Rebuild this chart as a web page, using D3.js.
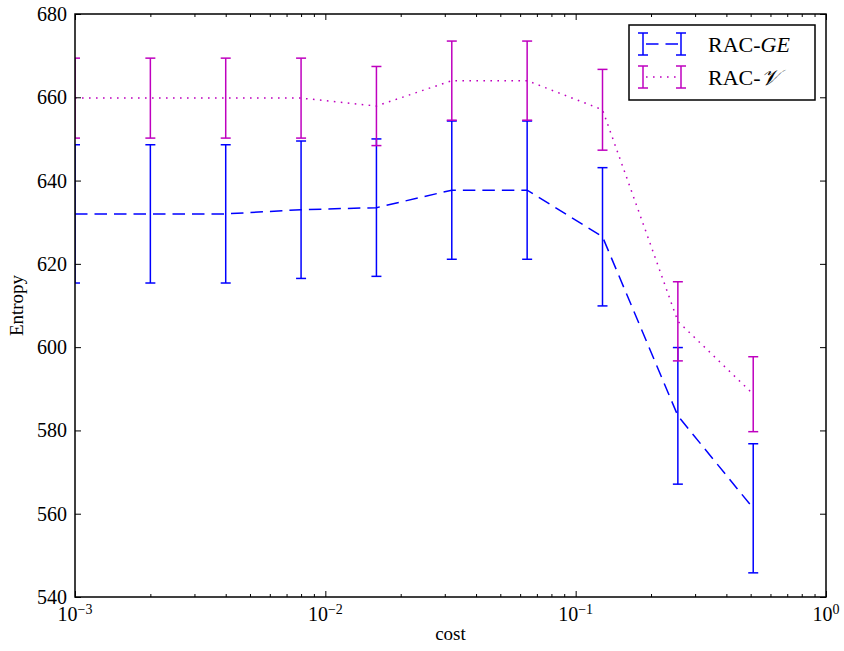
<!DOCTYPE html>
<html>
<head>
<meta charset="utf-8">
<script src="https://cdn.jsdelivr.net/npm/d3@7"></script>
<style>
  body { margin: 0; background: #fff; }
  text { font-family: "Liberation Serif", "DejaVu Serif", serif; fill: #000; }
</style>
</head>
<body>
<svg id="chart" width="844" height="651"></svg>
<script>
// data
var costs = [0.001, 0.002, 0.004, 0.008, 0.016, 0.032, 0.064, 0.128, 0.256, 0.512]
var geMean = [632.0, 632.0, 632.0, 633.0, 633.5, 637.7, 637.7, 626.5, 583.5, 561.3]
var geErr  = [16.6, 16.6, 16.6, 16.5, 16.5, 16.6, 16.6, 16.6, 16.4, 15.5]
var vMean  = [659.8, 659.8, 659.8, 659.8, 657.9, 664.0, 664.0, 657.0, 606.2, 588.7]
var vErr   = [9.6, 9.6, 9.6, 9.6, 9.5, 9.5, 9.5, 9.7, 9.5, 9.0]
var yTicks = [540, 560, 580, 600, 620, 640, 660, 680]
var xTicks = [0.001, 0.01, 0.1, 1]
var xTickExp = ["\u22123", "\u22122", "\u22121", "0"]

var pLeft = 75, pRight = 826, pTop = 14, pBottom = 597
var svg = d3.select("#chart")

var x = d3.scaleLog().domain([1e-3, 1]).range([pLeft, pRight])
var y = d3.scaleLinear().domain([540, 680]).range([pBottom, pTop])

svg.append("clipPath").attr("id", "clip")
  .append("rect").attr("x", pLeft).attr("y", pTop)
  .attr("width", pRight - pLeft).attr("height", pBottom - pTop)

var plot = svg.append("g").attr("clip-path", "url(#clip)")

var series = [
  {mean: geMean, err: geErr, color: "#0000ff", dash: "12.5,7"},
  {mean: vMean, err: vErr, color: "#bf00bf", dash: "1.6,5.4"}
]

series.forEach(function(s){
  var pts = costs.map(function(c, i){ return {c: c, m: s.mean[i], e: s.err[i]} })
  plot.append("path")
    .datum(pts)
    .attr("fill", "none")
    .attr("stroke", s.color)
    .attr("stroke-width", 1.5)
    .attr("stroke-dasharray", s.dash)
    .attr("d", d3.line().x(function(d){ return x(d.c) }).y(function(d){ return y(d.m) }))

  var bars = plot.append("g").attr("stroke", s.color).attr("stroke-width", 1.5)
  bars.selectAll("line.bar").data(pts).enter().append("line")
    .attr("x1", function(d){ return x(d.c) }).attr("x2", function(d){ return x(d.c) })
    .attr("y1", function(d){ return y(d.m - d.e) }).attr("y2", function(d){ return y(d.m + d.e) })
  bars.selectAll("line.capTop").data(pts).enter().append("line")
    .attr("x1", function(d){ return x(d.c) - 5 }).attr("x2", function(d){ return x(d.c) + 5 })
    .attr("y1", function(d){ return y(d.m + d.e) }).attr("y2", function(d){ return y(d.m + d.e) })
  bars.selectAll("line.capBot").data(pts).enter().append("line")
    .attr("x1", function(d){ return x(d.c) - 5 }).attr("x2", function(d){ return x(d.c) + 5 })
    .attr("y1", function(d){ return y(d.m - d.e) }).attr("y2", function(d){ return y(d.m - d.e) })
})

// ticks, all pointing inward
var minor = []
;[0.001, 0.01, 0.1].forEach(function(b){
  for (var k = 2; k <= 9; k++) minor.push(b * k)
})

function tickAxis(axis, g){
  g.call(axis)
  g.select(".domain").remove()
  g.selectAll("text").remove()
  g.selectAll("line").attr("stroke", "#000").attr("stroke-width", 1)
}

tickAxis(d3.axisBottom(x).tickValues(xTicks).tickSize(-6),
  svg.append("g").attr("transform", "translate(0," + pBottom + ")"))
tickAxis(d3.axisBottom(x).tickValues(minor).tickSize(-3),
  svg.append("g").attr("transform", "translate(0," + pBottom + ")"))
tickAxis(d3.axisTop(x).tickValues(xTicks).tickSize(-6),
  svg.append("g").attr("transform", "translate(0," + pTop + ")"))
tickAxis(d3.axisTop(x).tickValues(minor).tickSize(-3),
  svg.append("g").attr("transform", "translate(0," + pTop + ")"))
tickAxis(d3.axisLeft(y).tickValues(yTicks).tickSize(-6),
  svg.append("g").attr("transform", "translate(" + pLeft + ",0)"))
tickAxis(d3.axisRight(y).tickValues(yTicks).tickSize(-6),
  svg.append("g").attr("transform", "translate(" + pRight + ",0)"))

// frame
svg.append("rect")
  .attr("x", pLeft).attr("y", pTop)
  .attr("width", pRight - pLeft).attr("height", pBottom - pTop)
  .attr("fill", "none").attr("stroke", "#000").attr("stroke-width", 1.5)

// tick labels
svg.selectAll("text.ylab").data(yTicks).enter().append("text")
  .attr("x", pLeft - 8).attr("y", function(d){ return y(d) })
  .attr("dy", "0.35em").attr("text-anchor", "end")
  .style("font-size", "20px")
  .text(function(d){ return d })

var xl = svg.selectAll("text.xlab").data(xTicks).enter().append("text")
  .attr("x", function(d){ return x(d) }).attr("y", pBottom + 24)
  .attr("text-anchor", "middle")
  .style("font-size", "20px")
xl.append("tspan").text("10")
xl.append("tspan").attr("dy", -7).style("font-size", "14px")
  .text(function(d, i){ return xTickExp[i] })

// axis labels
svg.append("text").attr("x", (pLeft + pRight) / 2).attr("y", 640)
  .attr("text-anchor", "middle").style("font-size", "19px").text("cost")
svg.append("text")
  .attr("transform", "translate(23," + (pTop + pBottom) / 2 + ") rotate(-90)")
  .attr("text-anchor", "middle").style("font-size", "19px").text("Entropy")

// legend
var legend = svg.append("g")
legend.append("rect").attr("x", 629).attr("y", 25).attr("width", 186).attr("height", 75)
  .attr("fill", "#fff").attr("stroke", "#000").attr("stroke-width", 1.5)

var legendRows = [
  {label: "RAC-", italic: "GE", color: "#0000ff", dash: "12.5,7", yy: 44},
  {label: "RAC-", italic: "\ud835\udcb1", color: "#bf00bf", dash: "1.6,5.4", yy: 77}
]
legendRows.forEach(function(r){
  var g = legend.append("g").attr("stroke", r.color).attr("stroke-width", 1.5)
  g.append("line").attr("x1", 643).attr("x2", 681).attr("y1", r.yy).attr("y2", r.yy)
    .attr("stroke-dasharray", r.dash).attr("stroke-dashoffset", -3)
  ;[643, 681].forEach(function(xx){
    g.append("line").attr("x1", xx).attr("x2", xx).attr("y1", r.yy - 11).attr("y2", r.yy + 11)
    g.append("line").attr("x1", xx - 5).attr("x2", xx + 5).attr("y1", r.yy - 11).attr("y2", r.yy - 11)
    g.append("line").attr("x1", xx - 5).attr("x2", xx + 5).attr("y1", r.yy + 11).attr("y2", r.yy + 11)
  })
  var t = legend.append("text").attr("x", 708).attr("y", r.yy).attr("dy", "0.35em")
    .style("font-size", "22px")
  t.append("tspan").text(r.label)
  t.append("tspan").style("font-style", "italic").text(r.italic)
})
</script>
</body>
</html>
